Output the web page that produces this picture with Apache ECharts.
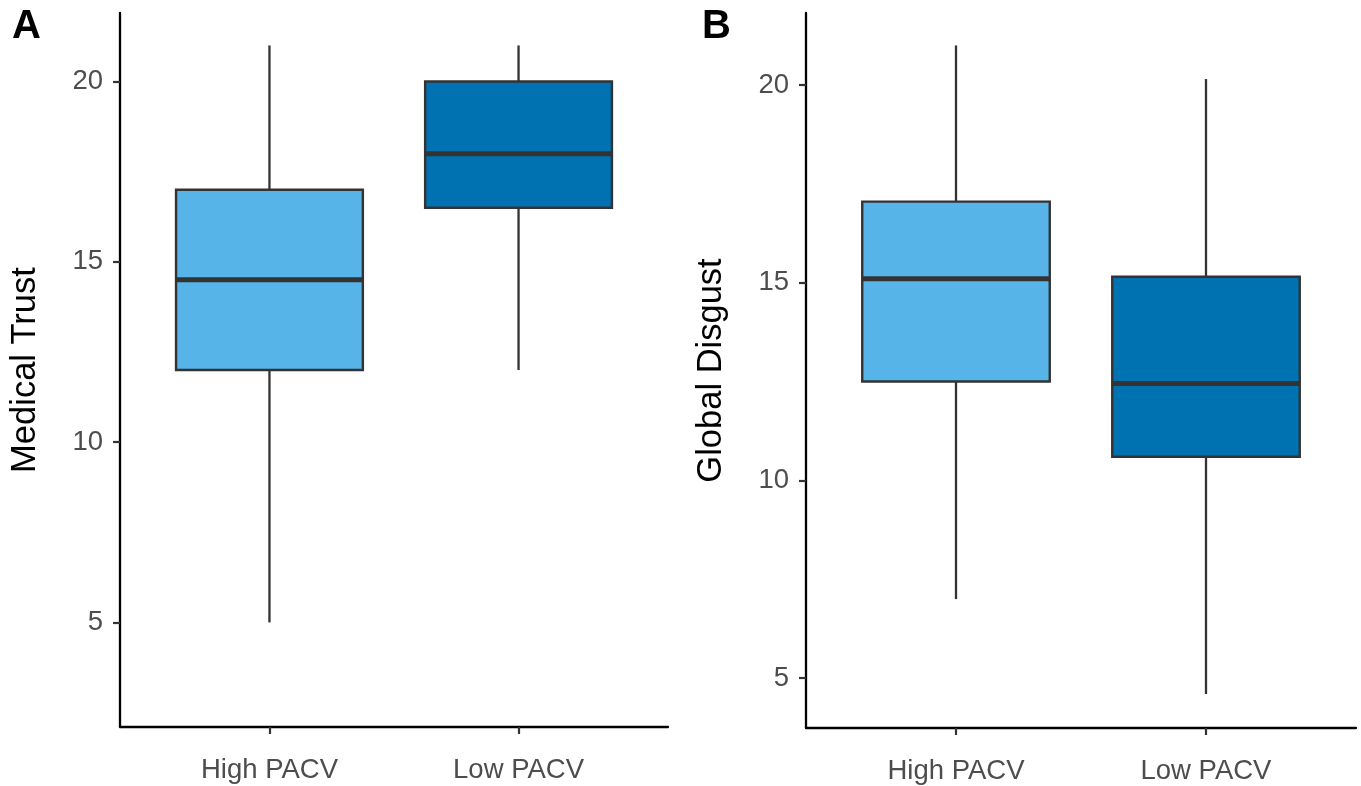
<!DOCTYPE html>
<html>
<head>
<meta charset="utf-8">
<script src="https://cdn.jsdelivr.net/npm/echarts@6/dist/echarts.min.js"></script>
<style>
html,body{margin:0;padding:0;background:#fff;}
#chart{width:1361px;height:786px;}
</style>
</head>
<body>
<div id="chart"></div>
<script>
// ---- data ----
const categories = ['High PACV', 'Low PACV'];
const categoryPositions = [1, 2];
// [lower whisker, Q1, median, Q3, upper whisker]
const trustStats = [
  [5, 12, 14.5, 17, 21],
  [12, 16.5, 18, 20, 21]
];
const disgustStats = [
  [7, 12.5, 15.1, 17.05, 21],
  [4.6, 10.6, 12.45, 15.15, 20.15]
];
const yTicks = [5, 10, 15, 20];
const panelTags = ['A', 'B'];
const yTitles = ['Medical Trust', 'Global Disgust'];

// ---- styles ----
const fillColors = ['#56B4E9', '#0072B2'];
const FONT = '"Liberation Sans", Arial, sans-serif';

function rows(stats) {
  return stats.map((s, i) => [categoryPositions[i]].concat(s).concat([i]));
}

function renderBox(params, api) {
  const x = api.value(0);
  const lo = api.coord([x, api.value(1)]);
  const q1 = api.coord([x, api.value(2)]);
  const md = api.coord([x, api.value(3)]);
  const q3 = api.coord([x, api.value(4)]);
  const hi = api.coord([x, api.value(5)]);
  const idx = api.value(6);
  const half = api.size([0.75, 0])[0] / 2;
  const cx = lo[0];
  const stroke = '#333333';
  return {
    type: 'group',
    children: [
      {type: 'line', shape: {x1: cx, y1: hi[1], x2: cx, y2: q3[1]}, style: {stroke, lineWidth: 2.3}},
      {type: 'line', shape: {x1: cx, y1: q1[1], x2: cx, y2: lo[1]}, style: {stroke, lineWidth: 2.3}},
      {type: 'rect', shape: {x: cx - half, y: q3[1], width: half * 2, height: q1[1] - q3[1]},
        style: {fill: fillColors[idx], stroke, lineWidth: 2.4}},
      {type: 'line', shape: {x1: cx - half, y1: md[1], x2: cx + half, y2: md[1]}, style: {stroke, lineWidth: 5}}
    ]
  };
}

function xAxisDef(gi) {
  return {
    type: 'value', gridIndex: gi, min: 0.4, max: 2.6,
    splitLine: {show: false},
    axisLine: {show: true, lineStyle: {color: '#000', width: 2.3}},
    axisTick: {show: true, customValues: categoryPositions, length: 7, lineStyle: {color: '#333', width: 2.2}},
    axisLabel: {customValues: categoryPositions, margin: 29, fontSize: 27.5, color: '#4D4D4D', fontFamily: FONT,
      formatter: v => categories[categoryPositions.indexOf(Math.round(v))] || ''}
  };
}
function yAxisDef(gi, min, max, title) {
  return {
    type: 'value', gridIndex: gi, min, max,
    name: title, nameLocation: 'middle', nameRotate: 90, nameGap: 77,
    nameTextStyle: {fontSize: 34.5, color: '#000', fontFamily: FONT},
    splitLine: {show: false},
    axisLine: {show: true, lineStyle: {color: '#000', width: 2.3}},
    axisTick: {show: true, customValues: yTicks, length: 7, lineStyle: {color: '#333', width: 2.2}},
    axisLabel: {customValues: yTicks, margin: 17, fontSize: 27.5, color: '#4D4D4D', fontFamily: FONT}
  };
}

const chart = echarts.init(document.getElementById('chart'), null, {renderer: 'canvas'});
chart.setOption({
  backgroundColor: '#fff',
  animation: false,
  title: [
    {text: panelTags[0], left: 12, top: 7, padding: 0, textStyle: {fontSize: 40, fontWeight: 'bold', color: '#000', fontFamily: FONT}},
    {text: panelTags[1], left: 702, top: 7, padding: 0, textStyle: {fontSize: 40, fontWeight: 'bold', color: '#000', fontFamily: FONT}}
  ],
  grid: [
    {left: 120, top: 13, width: 548, height: 714},
    {left: 806, top: 13, width: 550, height: 715}
  ],
  xAxis: [xAxisDef(0), xAxisDef(1)],
  yAxis: [yAxisDef(0, 2.1, 21.9, yTitles[0]), yAxisDef(1, 3.74, 21.82, yTitles[1])],
  series: [
    {type: 'custom', xAxisIndex: 0, yAxisIndex: 0, renderItem: renderBox, data: rows(trustStats),
      encode: {x: 0, y: [1, 2, 3, 4, 5]}},
    {type: 'custom', xAxisIndex: 1, yAxisIndex: 1, renderItem: renderBox, data: rows(disgustStats),
      encode: {x: 0, y: [1, 2, 3, 4, 5]}}
  ]
});
</script>
</body>
</html>
